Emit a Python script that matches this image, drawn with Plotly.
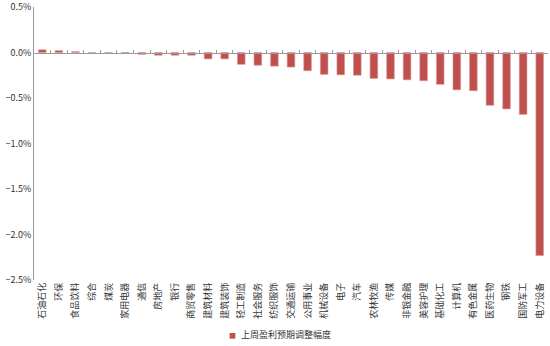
import plotly.graph_objects as go

categories = ["石油石化", "环保", "食品饮料", "综合", "煤炭", "家用电器", "通信", "房地产", "银行",
              "商贸零售", "建筑材料", "建筑装饰", "轻工制造", "社会服务", "纺织服饰", "交通运输",
              "公用事业", "机械设备", "电子", "汽车", "农林牧渔", "传媒", "非银金融", "美容护理",
              "基础化工", "计算机", "有色金属", "医药生物", "钢铁", "国防军工", "电力设备"]
values = [0.03, 0.02, 0.01, 0.0, 0.0, -0.01, -0.02, -0.03, -0.03,
          -0.03, -0.07, -0.07, -0.13, -0.14, -0.15, -0.16,
          -0.20, -0.24, -0.245, -0.25, -0.285, -0.29, -0.30, -0.31,
          -0.35, -0.41, -0.42, -0.58, -0.62, -0.68, -2.23]
values = [v / 100 for v in values]
series_name = "上周盈利预期调整幅度"
y_ticks = [0.005, 0.0, -0.005, -0.01, -0.015, -0.02, -0.025]

font = "Noto Sans CJK SC, Liberation Sans, Arial, sans-serif"
n = len(categories)
bar_color = "#C0504D"

fig = go.Figure()
fig.add_trace(go.Bar(
    x=categories, y=values, name=series_name, showlegend=False,
    marker=dict(color=bar_color, line=dict(color="#D99594", width=0.6)),
    width=0.46,
))
# invisible helper trace for the zero-line tick axis
fig.add_trace(go.Scatter(x=[-0.5, n - 0.5], y=[0, 0], xaxis="x2", mode="lines",
                         line=dict(width=0), showlegend=False, hoverinfo="skip"))

# legend drawn as annotations (small square + series name)
fig.add_annotation(xref="paper", yref="paper", x=0.386, y=-0.2, xanchor="center", yanchor="middle",
                   text="■", showarrow=False, font=dict(size=7, color=bar_color, family=font))
fig.add_annotation(xref="paper", yref="paper", x=0.398, y=-0.2, xanchor="left", yanchor="middle",
                   text=series_name, showarrow=False, font=dict(size=9, color="#333333", family=font))

fig.update_layout(
    width=550, height=346,
    margin=dict(l=34, r=2, t=7, b=66, autoexpand=False),
    paper_bgcolor="white", plot_bgcolor="white",
    font=dict(family=font, size=9, color="#333333"),
    bargap=0.5,
    showlegend=False,
    xaxis=dict(type="category", tickangle=-90, showline=False, ticks="", automargin=False,
               showgrid=False, tickfont=dict(size=9), range=[-0.5, n - 0.5]),
    xaxis2=dict(overlaying="x", anchor="free", position=(0 - y_ticks[-1]) / (y_ticks[0] - y_ticks[-1]),
                range=[-0.5, n - 0.5], showline=True, linecolor="#999999", linewidth=1,
                tickmode="array", tickvals=[i + 0.5 for i in range(n)],
                ticks="inside", ticklen=3, tickcolor="#999999",
                showticklabels=False, showgrid=False, zeroline=False),
    yaxis=dict(range=[y_ticks[-1], y_ticks[0]], tickvals=y_ticks, tickformat=".1%",
               showline=True, linecolor="#999999", linewidth=1, showgrid=False, automargin=False,
               zeroline=False, ticks="", tickfont=dict(size=9)),
)

fig.write_html("out.html")
